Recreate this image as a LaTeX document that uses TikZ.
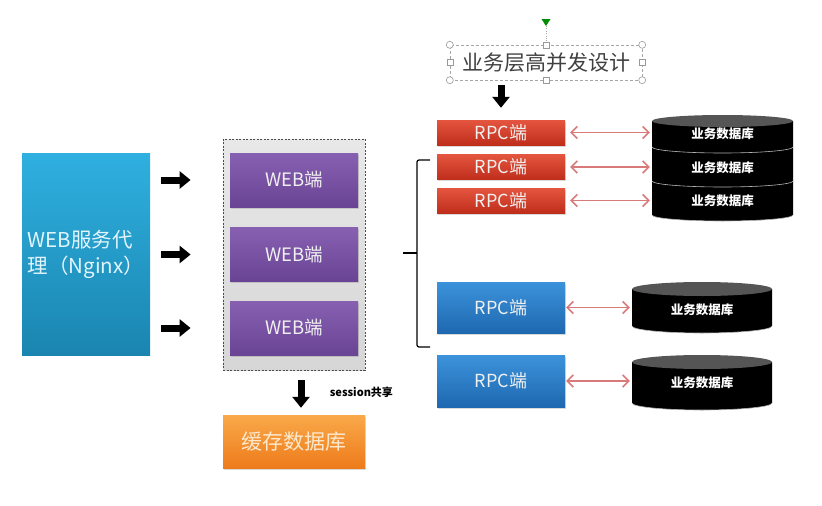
\documentclass[tikz,border=0pt]{standalone}
\usepackage{fontspec}
\setmainfont{Noto Sans CJK SC}
\usetikzlibrary{arrows.meta,shadows,positioning}
\definecolor{nginxtop}{HTML}{2FB0E0}
\definecolor{nginxbot}{HTML}{1A85B0}
\definecolor{nginxtxt}{HTML}{E2F5FC}
\definecolor{webtop}{HTML}{8760B2}
\definecolor{webbot}{HTML}{6A4494}
\definecolor{cachetop}{HTML}{F9A94A}
\definecolor{cachebot}{HTML}{EE7B1B}
\definecolor{cachetxt}{HTML}{FDE8CC}
\definecolor{rpctop}{HTML}{E4553F}
\definecolor{rpcbot}{HTML}{BF2E1B}
\definecolor{bluetop}{HTML}{3C93DB}
\definecolor{bluebot}{HTML}{1E68B0}
\definecolor{linkred}{HTML}{D97A7A}
\definecolor{diskcap}{HTML}{555555}

\tikzset{
    panel/.style={inner sep=0pt, minimum width=128pt, text=white!94!black},
    fatarrow/.style={line width=7pt, -{Triangle[length=11pt,width=17pt]}},
    duplex/.style={draw=linkred, line width=1.6pt, {Straight Barb[length=6pt,width=12pt]}-{Straight Barb[length=6pt,width=12pt]}},
    handle/.style={draw=gray!80, fill=white, line width=0.6pt},
    dblabel/.style={inner sep=0pt, text=white, font=\bfseries\fontsize{12.5}{12.5}\selectfont},
    softshadow/.style={drop shadow={opacity=.3, shadow xshift=1pt, shadow yshift=-1.5pt}}
}

% disk: center x, half width, top cap y, bottom cap y, y radius
\newcommand{\disk}[5]{%
    \fill[black] (#1-#2,#3) -- (#1-#2,#4) arc[start angle=180,end angle=0,x radius=#2,y radius=#5] -- (#1+#2,#3) -- cycle;
    \draw[gray!60, line width=.6pt] (#1-#2,#4) arc[start angle=180,end angle=0,x radius=#2,y radius=#5];
    \fill[diskcap] (#1,#3) ellipse[x radius=#2,y radius=#5];}

\begin{document}
\begin{tikzpicture}[x=1pt,y=-1pt]
    \useasboundingbox (0,0) rectangle (822,506);

    % proxy
    \node[panel, minimum height=202pt, top color=nginxtop, bottom color=nginxbot, align=left,
        text=nginxtxt, font=\fontsize{20.5}{26}\selectfont] (nginx) at (86,254) {WEB服务代\\理（Nginx）};

    % web cluster
    \node[minimum width=142pt, minimum height=231pt, draw=gray!60!black, dash pattern=on 2pt off 1.5pt,
        line width=.8pt, top color=gray!18, bottom color=gray!32] (cluster) at (294,254.5) {};
    \foreach \n/\y in {1/180,2/254.5,3/328}{
        \node[panel, minimum height=54pt, top color=webtop, bottom color=webbot, softshadow,
            font=\fontsize{18.5}{18.5}\selectfont] (web\n) at (294,\y) {WEB端};
        \draw[fatarrow, shorten <=11pt, shorten >=32pt] (nginx.east |- web\n) -- (cluster.west |- web\n);
    }

    % cache
    \node[minimum width=142pt, minimum height=53pt, inner sep=0pt, top color=cachetop, bottom color=cachebot,
        text=cachetxt, softshadow, font=\fontsize{21}{21}\selectfont] (cache) at (294,441.5) {缓存数据库};
    \draw[fatarrow, shorten <=10pt, shorten >=7pt] ([xshift=7pt]cluster.south) -- ([xshift=7pt]cluster.south |- cache.north)
        node[midway, right=22pt, font=\bfseries\fontsize{11}{11}\selectfont] (share) {session共享};

    % title with selection handles
    \node[minimum width=192pt, minimum height=35pt, inner sep=0pt, draw=gray!70, dash pattern=on 3pt off 2pt,
        text=black!75, font=\fontsize{21}{21}\selectfont] (title) at (546,62.5) {业务层高并发设计};
    \coordinate (rot) at (546,26);
    \draw[gray!70, dotted] (rot) -- (title.north);
    \fill[green!55!black] (541.5,19) -- (550.5,19) -- (rot) -- cycle;
    \foreach \a in {north west,north east,south west,south east}
        \draw[handle] (title.\a) circle[radius=3.5pt];
    \foreach \a in {north,south,west,east}
        \draw[handle] ([shift={(-3,-3)}]title.\a) rectangle ++(6,6);

    % rpc
    \foreach \n/\y in {1/132.5,2/167,3/200.5}
        \node[panel, minimum height=25pt, top color=rpctop, bottom color=rpcbot, softshadow,
            font=\fontsize{18}{18}\selectfont] (rpc\n) at (501,\y) {RPC端};
    \foreach \n/\y/\h in {4/307.5/51,5/381/52}
        \node[panel, minimum height=\h pt, top color=bluetop, bottom color=bluebot, softshadow,
            font=\fontsize{18}{18}\selectfont] (rpc\n) at (501,\y) {RPC端};
    \draw[fatarrow, shorten <=5pt, shorten >=12pt] (title.south -| rpc1) -- (rpc1.north);

    % brace
    \draw[line width=1.2pt, rounded corners=2pt] (430,160) -- (417,160) -- (417,347) -- (430,347);
    \draw[line width=1.2pt] (403,253) -- (417,253);

    % databases
    \disk{722.5}{70.5}{181}{215}{6}
    \disk{722.5}{70.5}{147}{181}{6}
    \disk{722.5}{70.5}{121}{147}{6}
    \disk{702}{70}{289}{326}{7}
    \disk{702}{70}{362}{403}{7}
    \foreach \n/\y in {1/134,2/167.5,3/201}
        \node[dblabel, minimum width=141pt] (db\n) at (722.5,\y) {业务数据库};
    \foreach \n/\y in {4/310,5/383}
        \node[dblabel, minimum width=140pt] (db\n) at (702,\y) {业务数据库};

    % links
    \foreach \n in {1,2,3}
        \draw[duplex, shorten <=5pt, shorten >=2pt] (rpc\n.east) -- (rpc\n.east -| db\n.west);
    \foreach \n in {4,5}
        \draw[duplex, shorten <=1pt, shorten >=2pt] (rpc\n.east) -- (rpc\n.east -| db\n.west);
\end{tikzpicture}
\end{document}
